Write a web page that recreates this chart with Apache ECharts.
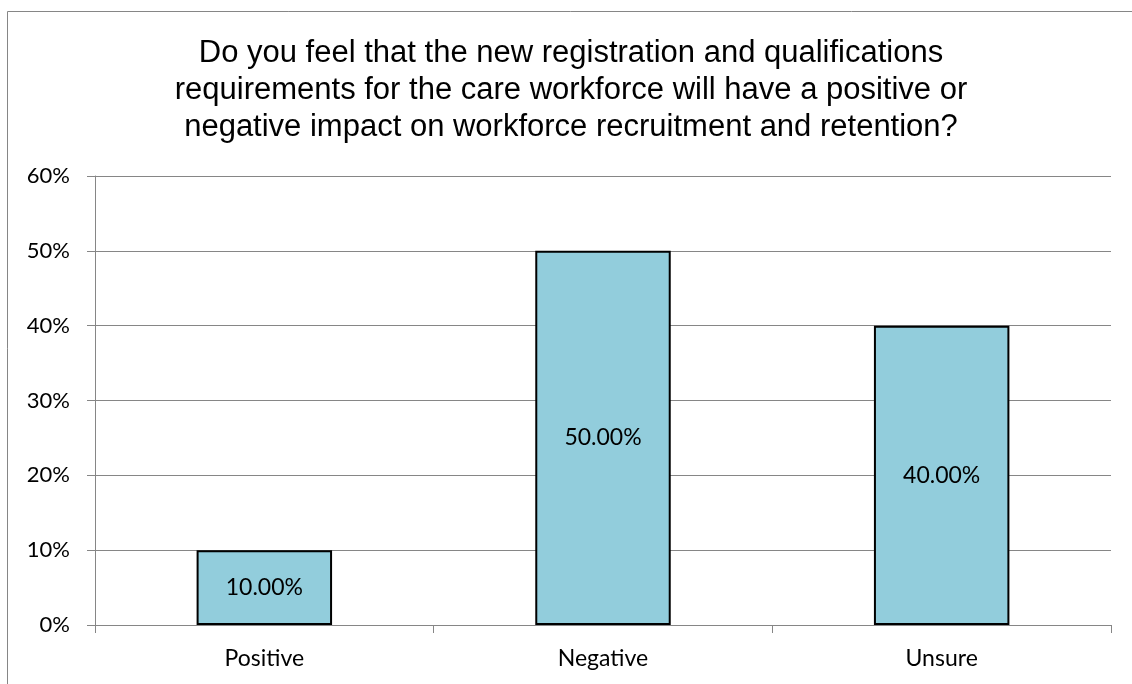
<!DOCTYPE html>
<html>
<head>
<meta charset="utf-8">
<script src="https://cdn.jsdelivr.net/npm/echarts@6/dist/echarts.min.js"></script>
<style>
  html, body { margin: 0; padding: 0; background: #ffffff; }
  #grafica { width: 1132px; height: 684px; }
</style>
</head>
<body>
<div id="grafica"></div>
<script>
var titulo = "Do you feel that the new registration and qualifications\nrequirements for the care workforce will have a positive or\nnegative impact on workforce recruitment and retention?";
var categorias = ["Positive", "Negative", "Unsure"];
var valores = [0.1, 0.5, 0.4];

document.addEventListener("DOMContentLoaded", function () {
  var chart = echarts.init(document.getElementById("grafica"));
  var option = {
    animation: false,
    title: {
      text: titulo,
      left: 566,
      top: 30,
      textAlign: "center",
      textStyle: {
        fontFamily: "Liberation Sans, Arial",
        fontSize: 31,
        fontWeight: "normal",
        color: "#000000",
        lineHeight: 37,
      },
    },
    graphic: [
      {
        type: "rect",
        shape: { x: 7.5, y: 11.5, width: 1200, height: 1000 },
        style: { fill: "none", stroke: "#868686", lineWidth: 1 },
        silent: true,
      },
    ],
    grid: { left: 95, right: 21, top: 176, bottom: 59 },
    xAxis: {
      type: "category",
      data: categorias,
      axisLine: { lineStyle: { color: "#868686", width: 1 } },
      axisTick: { show: true, length: 8, lineStyle: { color: "#868686" } },
      axisLabel: {
        margin: 22,
        fontFamily: "Lato, Open Sans, sans-serif",
        fontSize: 23,
        color: "#000000",
      },
    },
    yAxis: {
      type: "value",
      min: 0,
      max: 0.6,
      interval: 0.1,
      axisLine: { show: true, lineStyle: { color: "#868686", width: 1 } },
      axisTick: { show: true, length: 8, inside: false, lineStyle: { color: "#868686" } },
      splitLine: { lineStyle: { color: "#868686", width: 1 } },
      axisLabel: {
        margin: 25,
        fontFamily: "Lato, Open Sans, sans-serif",
        fontSize: 22,
        color: "#000000",
        formatter: function (v) {
          return Math.round(v * 100) + "%";
        },
      },
    },
    series: [
      {
        type: "bar",
        data: valores,
        barWidth: "40%",
        itemStyle: { color: "#92CDDC", borderColor: "#000000", borderWidth: 2 },
        label: {
          show: true,
          position: "inside",
          fontFamily: "Lato, Open Sans, sans-serif",
          fontSize: 23,
          color: "#000000",
          formatter: function (p) {
            return (p.value * 100).toFixed(2) + "%";
          },
        },
      },
    ],
  };
  chart.setOption(option);
});
</script>
</body>
</html>
